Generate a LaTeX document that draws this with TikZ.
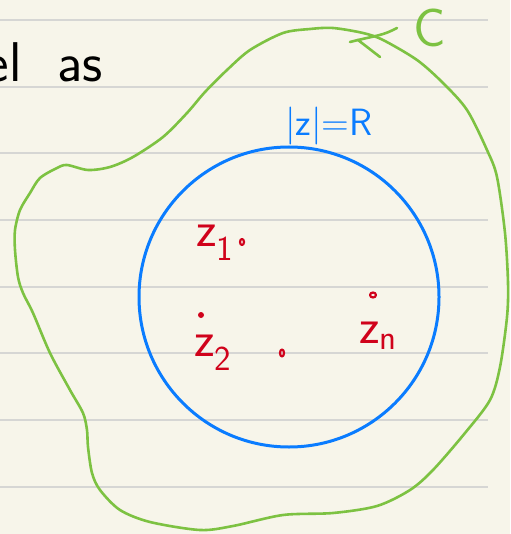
\documentclass[tikz,border=0pt]{standalone}
\usepackage{tikz}
\usetikzlibrary{positioning}
\definecolor{paper}{HTML}{F7F5EA}
\definecolor{rule}{HTML}{D6D6D4}
\definecolor{curvegreen}{HTML}{7DC242}
\definecolor{circleblue}{HTML}{0A7CFF}
\definecolor{pointred}{HTML}{D0021B}

\begin{document}
\begin{tikzpicture}[x=1pt, y=-1pt, line cap=round, line join=round,
  hand/.style={inner sep=0pt, font=\sffamily},
  pt/.style={draw=pointred, line width=2.2pt}]
\useasboundingbox[fill=paper] (0,0) rectangle (510,534);
\foreach \y in {20,87,153,220,287,353,420,487}
  \draw[rule, line width=1.5pt, line cap=butt] (0,\y) -- (488,\y);
\node[hand, anchor=base east, font=\sffamily\fontsize{56}{56}\selectfont] (el) at (22,82) {el};
\node[hand, anchor=base west, font=\sffamily\fontsize{56}{56}\selectfont] (as) at (57,82) {as};
\draw[curvegreen, line width=2.6pt] plot[smooth cycle, tension=0.5] coordinates {
  (40,178) (57,168) (67,165) (88,170) (110,167) (133,157) (163,137) (187,113)
  (205,92) (227,70) (250,50) (283,33) (310,29) (333,28) (363,33) (383,40)
  (417,60) (443,83) (467,110) (487,150) (497,177) (505,233) (508,283) (507,317)
  (500,367) (490,400) (465,433) (433,470) (410,490) (377,506) (333,513)
  (283,515) (233,526) (200,530) (150,522) (120,510) (100,490) (92,473)
  (88,447) (87,430) (83,413) (70,390) (50,353) (33,313) (23,293) (18,277)
  (15,250) (15,230) (20,210) (30,193)};
\coordinate (tip) at (358,40);
\draw[curvegreen, line width=2.6pt] (397,28) .. controls (385,34) .. (tip) -- (380,57);
\draw[curvegreen, line width=2.6pt] (350,42) -- (tip);
\node[hand, anchor=base west, text=curvegreen, font=\sffamily\fontsize{54}{54}\selectfont] (C) at (413,47) {C};
\draw[circleblue, line width=3pt] (289,297) circle[radius=150pt];
\node[hand, anchor=base west, text=circleblue, font=\sffamily\fontsize{38}{38}\selectfont] (R) at (285,136) {|z|=R};
\node[hand, anchor=base west, text=pointred, font=\sffamily\fontsize{50}{50}\selectfont] (z1) at (196,246) {z\textsubscript{1}};
\node[hand, anchor=base west, text=pointred, font=\sffamily\fontsize{50}{50}\selectfont] (z2) at (194,356) {z\textsubscript{2}};
\node[hand, anchor=base west, text=pointred, font=\sffamily\fontsize{50}{50}\selectfont] (zn) at (359,343) {z\textsubscript{n}};
\draw[pt] (242,242) ellipse[x radius=2pt, y radius=3pt];
\fill[pointred] (201,315) circle[radius=3pt];
\draw[pt] (282,353) ellipse[x radius=2pt, y radius=3.5pt];
\draw[pt] (373,295) ellipse[x radius=3pt, y radius=2.5pt];
\end{tikzpicture}
\end{document}
